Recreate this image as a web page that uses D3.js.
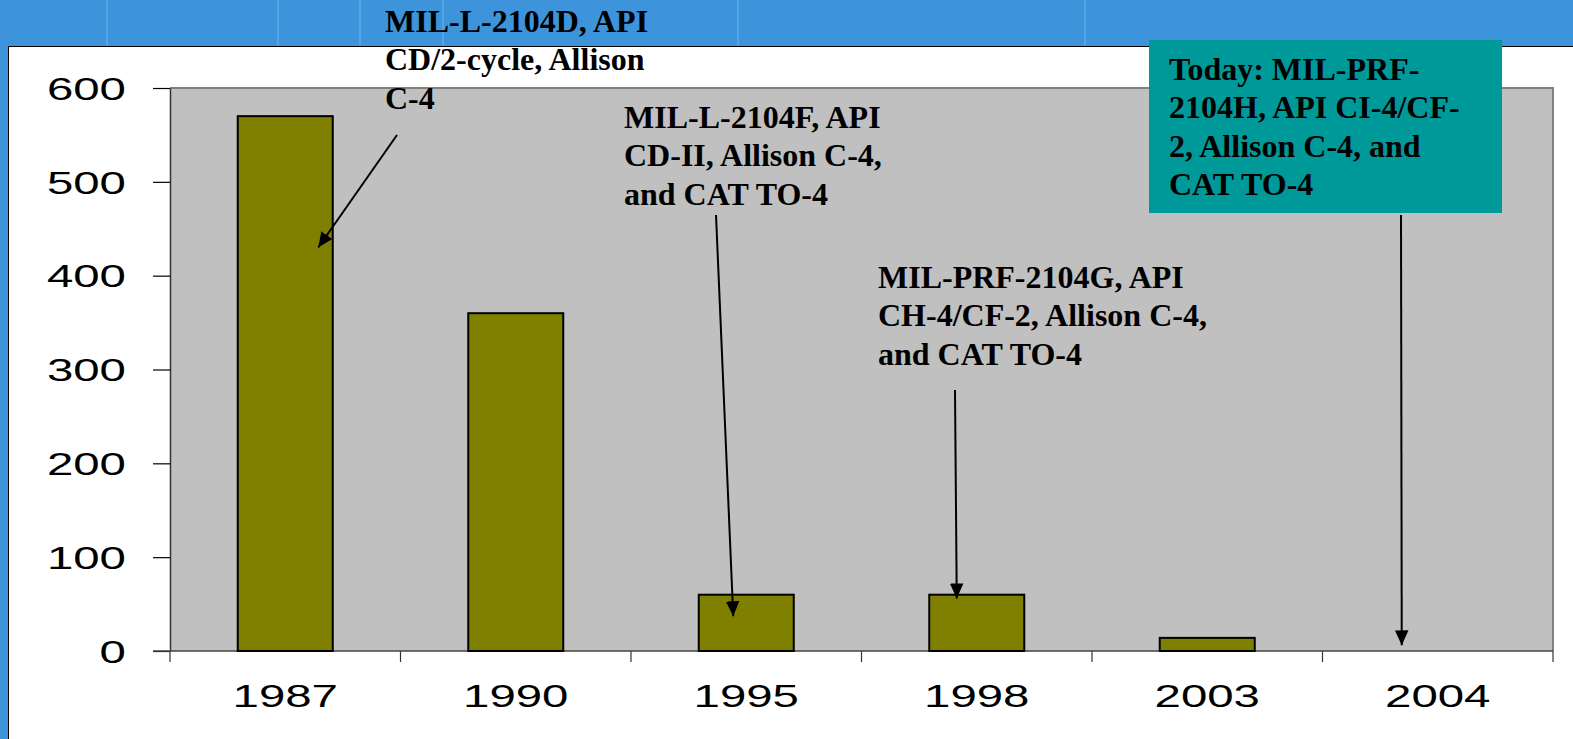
<!DOCTYPE html>
<html><head><meta charset="utf-8">
<script src="https://cdn.jsdelivr.net/npm/d3@7"></script>
<style>html,body{margin:0;padding:0;background:#3d94db;overflow:hidden}svg{display:block}</style>
</head><body>
<svg id="c" width="1573" height="739"></svg>
<script>
const years = ["1987","1990","1995","1998","2003","2004"];
const values = [570, 360, 60, 60, 14, 0];
const yTicks = [0,100,200,300,400,500,600];
const notes = [
  {lines:["MIL-L-2104D, API","CD/2-cycle, Allison","C-4"], year:"1987", val:430, box:false},
  {lines:["MIL-L-2104F, API","CD-II, Allison C-4,","and CAT TO-4"], year:"1995", val:37, box:false},
  {lines:["MIL-PRF-2104G, API","CH-4/CF-2, Allison C-4,","and CAT TO-4"], year:"1998", val:56, box:false},
  {lines:["Today: MIL-PRF-","2104H, API CI-4/CF-","2, Allison C-4, and","CAT TO-4"], year:"2004", val:6, box:true}
];

const svg = d3.select("#c");
const W = 1573, H = 739;
const L = 170, R = 1553, T = 88, B = 651;

svg.append("rect").attr("width",W).attr("height",H).attr("fill","#3d94db");
[107,278,360,443,738,1085].forEach(x=>svg.append("line").attr("x1",x).attr("x2",x).attr("y1",0).attr("y2",46).attr("stroke","#5aaae6").attr("stroke-width",1.5));
svg.append("rect").attr("x",8.5).attr("y",46.5).attr("width",W).attr("height",H).attr("fill","#fff").attr("stroke","#000").attr("stroke-width",1);

const x = d3.scaleBand().domain(years).range([L,R]).padding(0);
const y = d3.scaleLinear().domain([0,600]).range([B,T]);

svg.append("rect").attr("x",L).attr("y",T).attr("width",R-L).attr("height",B-T).attr("fill","#c0c0c0");
svg.append("path").attr("d",`M${L},${T}H${R}V${B}`).attr("fill","none").attr("stroke","#808080").attr("stroke-width",2);

const SX = 1.53;
// Y axis
const ya = svg.append("g").attr("transform",`translate(${L},0)`)
  .call(d3.axisLeft(y).tickValues(yTicks).tickSize(17).tickPadding(0).tickSizeOuter(0));
ya.select(".domain").attr("stroke","#333").attr("stroke-width",1.5);
ya.selectAll(".tick line").attr("stroke","#000").attr("stroke-width",1.2);
ya.selectAll(".tick text").attr("x",0).attr("dy","0.36em")
  .attr("transform",`translate(-44,0) scale(${SX},1)`)
  .attr("font-family","'Liberation Sans', Arial, sans-serif").attr("font-size",31).attr("fill","#000");

// X axis
const xa = svg.append("g").attr("transform",`translate(0,${B})`)
  .call(d3.axisBottom(x).tickSize(0).tickPadding(0));
xa.select(".domain").remove();
xa.selectAll(".tick text").attr("y",0).attr("dy",0)
  .attr("transform",`translate(0,56) scale(${SX},1)`)
  .attr("font-family","'Liberation Sans', Arial, sans-serif").attr("font-size",31).attr("fill","#000");
// boundary ticks
const bounds = years.map(d=>x(d)).concat([R]);
svg.append("g").selectAll("line").data(bounds).join("line")
  .attr("x1",d=>d).attr("x2",d=>d).attr("y1",B).attr("y2",B+11)
  .attr("stroke","#333").attr("stroke-width",1.2);
svg.append("line").attr("x1",L-17).attr("x2",R).attr("y1",B).attr("y2",B).attr("stroke","#444").attr("stroke-width",1.5);

// Bars
const bw = 95;
svg.append("g").selectAll("rect").data(values).join("rect")
  .attr("x",(d,i)=>x(years[i])+x.bandwidth()/2-bw/2)
  .attr("y",d=>y(d))
  .attr("width",bw)
  .attr("height",d=>B-y(d))
  .attr("fill","#808000").attr("stroke","#000").attr("stroke-width",2)
  .filter(d=>d===0).remove();

// Annotations
const defs = svg.append("defs");
defs.append("marker").attr("id","ah").attr("viewBox","0 0 10 10").attr("refX",10).attr("refY",5)
  .attr("markerWidth",15).attr("markerHeight",15).attr("markerUnits","userSpaceOnUse").attr("orient","auto")
  .append("path").attr("d","M0,0.5L10,5L0,9.5Z").attr("fill","#000");

const pos = [
  {tx:385, ty:32, x1:397, y1:135, dx:33},
  {tx:624, ty:128, x1:716, y1:215, dx:-13},
  {tx:878, ty:288, x1:955, y1:390, dx:-20},
  {tx:1169, ty:80, x1:1401, y1:215, dx:-36}
];
notes.forEach((n,i)=>{
  const p = pos[i];
  if(n.box){
    svg.append("rect").attr("x",1149).attr("y",40).attr("width",353).attr("height",173).attr("fill","#009999");
  }
  const t = svg.append("text").attr("x",p.tx).attr("y",p.ty)
    .attr("font-family","'Liberation Serif','Times New Roman',serif").attr("font-weight","bold")
    .attr("font-size",32).attr("fill","#000");
  n.lines.forEach((l,j)=>t.append("tspan").attr("x",p.tx).attr("y",p.ty+j*38.3).text(l));
  const tipX = x(n.year)+x.bandwidth()/2+p.dx;
  svg.append("line").attr("x1",p.x1).attr("y1",p.y1).attr("x2",tipX).attr("y2",y(n.val))
    .attr("stroke","#000").attr("stroke-width",2).attr("marker-end","url(#ah)");
});
</script>
</body></html>
